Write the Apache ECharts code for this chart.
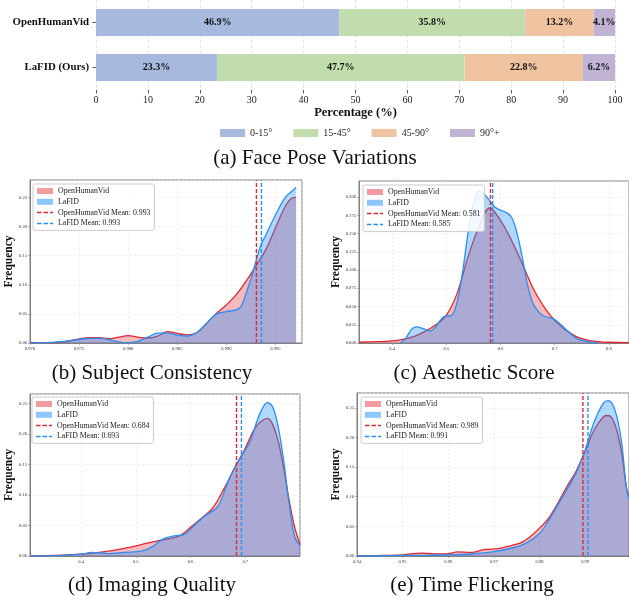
<!DOCTYPE html>
<html><head><meta charset="utf-8">
<script src="https://cdn.jsdelivr.net/npm/echarts@6/dist/echarts.min.js"></script>
<style>html,body{margin:0;padding:0;background:#fff}#c{width:629px;height:602px}</style>
</head><body><div id="c"></div>
<script>
// ---------- (a) Face pose data ----------
const poseCategories = ['OpenHumanVid', 'LaFID (Ours)'];
const poseBins = ['0-15°', '15-45°', '45-90°', '90°+'];
const poseOHV = [46.9, 35.8, 13.2, 4.1];
const poseLaFID = [23.3, 47.7, 22.8, 6.2];

// ---------- (b) Subject Consistency ----------
const subjOhvX = [0.970,0.972,0.9735,0.975,0.976,0.977,0.978,0.979,0.980,0.981,0.982,0.983,0.984,0.985,0.986,0.987,0.988,0.989,0.990,0.991,0.992,0.993,0.994,0.995,0.996,0.9967,0.9971];
const subjOhvY = [0.001,0.0005,0.002,0.007,0.009,0.009,0.0075,0.010,0.0126,0.010,0.0086,0.012,0.0195,0.0167,0.0138,0.018,0.034,0.051,0.0655,0.083,0.106,0.132,0.160,0.198,0.235,0.249,0.250];
const subjLafX = [0.970,0.972,0.974,0.975,0.976,0.977,0.978,0.979,0.980,0.981,0.982,0.983,0.984,0.985,0.986,0.987,0.988,0.989,0.990,0.991,0.9915,0.992,0.9925,0.993,0.9935,0.994,0.995,0.996,0.9967,0.9971];
const subjLafY = [0.0,0.001,0.004,0.006,0.008,0.008,0.006,0.002,0.0005,0.003,0.010,0.017,0.017,0.0135,0.012,0.018,0.034,0.050,0.054,0.057,0.063,0.085,0.110,0.140,0.168,0.185,0.220,0.250,0.261,0.267];

// ---------- (c) Aesthetic Score ----------
const aesOhvX = [0.339,0.40,0.42,0.44,0.46,0.48,0.50,0.52,0.54,0.56,0.58,0.60,0.62,0.64,0.66,0.68,0.70,0.72,0.74,0.76,0.78,0.80,0.837];
const aesOhvY = [0.001,0.003,0.005,0.0087,0.0155,0.0246,0.038,0.068,0.118,0.159,0.185,0.168,0.141,0.109,0.075,0.050,0.031,0.018,0.0087,0.004,0.002,0.001,0.0005];
const aesLafX = [0.415,0.425,0.435,0.445,0.46,0.47,0.48,0.495,0.51,0.52,0.53,0.54,0.55,0.56,0.57,0.58,0.59,0.60,0.61,0.62,0.63,0.64,0.65,0.66,0.67,0.68,0.70,0.72,0.74,0.76,0.78];
const aesLafY = [0,0.006,0.018,0.022,0.019,0.0164,0.022,0.036,0.038,0.056,0.097,0.150,0.189,0.208,0.204,0.195,0.186,0.182,0.179,0.173,0.152,0.118,0.079,0.054,0.043,0.037,0.032,0.019,0.0064,0.002,0];

// ---------- (d) Imaging Quality ----------
const iqOhvX = [0.307,0.35,0.40,0.45,0.50,0.52,0.54,0.56,0.58,0.60,0.62,0.64,0.66,0.68,0.70,0.72,0.74,0.76,0.78,0.79,0.80];
const iqOhvY = [0.0005,0.001,0.003,0.008,0.0165,0.021,0.025,0.028,0.033,0.047,0.062,0.078,0.1085,0.144,0.177,0.213,0.226,0.189,0.092,0.048,0.019];
const iqLafX = [0.307,0.35,0.40,0.42,0.45,0.48,0.51,0.53,0.55,0.57,0.59,0.61,0.63,0.65,0.67,0.69,0.70,0.71,0.72,0.73,0.74,0.75,0.76,0.77,0.78,0.79,0.80];
const iqLafY = [0,0.0005,0.003,0.006,0.004,0.006,0.008,0.015,0.028,0.033,0.036,0.053,0.068,0.081,0.125,0.160,0.174,0.190,0.218,0.240,0.252,0.245,0.213,0.158,0.087,0.032,0.017];

// ---------- (e) Time Flickering ----------
const tfOhvX = [0.940,0.945,0.950,0.954,0.957,0.960,0.962,0.965,0.968,0.971,0.974,0.976,0.978,0.980,0.982,0.984,0.986,0.988,0.990,0.992,0.994,0.995,0.996,0.997,0.998,0.999,0.9996];
const tfOhvY = [0.0005,0.001,0.002,0.005,0.0034,0.004,0.0068,0.006,0.011,0.0124,0.018,0.0226,0.033,0.047,0.064,0.089,0.117,0.143,0.177,0.213,0.235,0.237,0.231,0.210,0.174,0.117,0.100];
const tfLafX = [0.940,0.950,0.955,0.960,0.965,0.970,0.974,0.977,0.980,0.982,0.984,0.986,0.988,0.990,0.992,0.994,0.995,0.996,0.997,0.998,0.999,0.9996];
const tfLafY = [0,0.001,0.001,0.002,0.0034,0.0073,0.0135,0.0214,0.038,0.060,0.086,0.112,0.140,0.179,0.227,0.258,0.262,0.256,0.233,0.191,0.117,0.095];

// means (position, label)
const meanOhvPos = [0.99306, 0.5815, 0.684, 0.9895];
const meanLafPos = [0.99357, 0.5855, 0.693, 0.9906];
const meanOhvLabel = ['0.993', '0.581', '0.684', '0.989'];
const meanLafLabel = ['0.993', '0.585', '0.693', '0.991'];

const captions = ['(a) Face Pose Variations', '(b) Subject Consistency', '(c) Aesthetic Score', '(d) Imaging Quality', '(e) Time Flickering'];

// ---------- styles ----------
const SERIF = '"Liberation Serif","Times New Roman","DejaVu Serif",serif';
const poseColors = ['#a7b9de', '#c1dcad', '#f0c3a0', '#c1b3d4'];
const RED_LINE = '#dc2a33', RED_FILL = 'rgba(230,57,70,0.5)';
const BLUE_LINE = '#2a8ff0', BLUE_FILL = 'rgba(30,144,255,0.5)';
const DASH_ICON = 'path://M0,0h4.5v1.5h-4.5z M6.5,0h4.5v1.5h-4.5z M13,0h3v1.5h-3z';

const pair = (xs, ys) => xs.map((x, i) => [x, ys[i]]);

const panels = [
  {grid: {left: 30, top: 180, width: 272, height: 163}, xmin: 0.970, xmax: 0.9977, xint: 0.005, xdec: 3, ymax: 0.28, yint: 0.05, ydec: 2, nameGap: 11,
   ohv: pair(subjOhvX, subjOhvY), laf: pair(subjLafX, subjLafY), legend: {left: 33, top: 184}, cap: [152, 373]},
  {grid: {left: 359, top: 181, width: 271, height: 162}, xmin: 0.339, xmax: 0.837, xint: null, xdec: 1, ymax: 0.222, yint: 0.025, ydec: 3, nameGap: 14,
   ohv: pair(aesOhvX, aesOhvY), laf: pair(aesLafX, aesLafY), legend: {left: 363, top: 185}, cap: [474, 373]},
  {grid: {left: 30, top: 394, width: 270, height: 162}, xmin: 0.3067, xmax: 0.80, xint: null, xdec: 1, ymax: 0.266, yint: 0.05, ydec: 2, nameGap: 12,
   ohv: pair(iqOhvX, iqOhvY), laf: pair(iqLafX, iqLafY), legend: {left: 32, top: 397}, cap: [152, 585]},
  {grid: {left: 357, top: 393, width: 273, height: 163}, xmin: 0.94, xmax: 0.9996, xint: 0.01, xdec: 2, ymax: 0.275, yint: 0.05, ydec: 2, nameGap: 12,
   ohv: pair(tfOhvX, tfOhvY), laf: pair(tfLafX, tfLafY), legend: {left: 361, top: 397}, cap: [472, 585]}
];

const grids = [{left: 96, top: -1, width: 519, height: 91, containLabel: false}];
const xAxes = [{
  gridIndex: 0, type: 'value', min: 0, max: 100, interval: 10,
  axisLine: {show: false},
  axisTick: {show: true, length: 3.5, lineStyle: {color: '#333', width: 0.8}},
  axisLabel: {fontSize: 10, color: '#222', margin: 5, fontFamily: SERIF},
  splitLine: {show: true, lineStyle: {color: '#dcdcdc', type: [3, 2], width: 0.8}},
  name: 'Percentage (%)', nameLocation: 'middle', nameGap: 16,
  nameTextStyle: {fontSize: 12.5, fontWeight: 'bold', color: '#111', fontFamily: SERIF}
}];
const yAxes = [{
  gridIndex: 0, type: 'category', data: poseCategories, inverse: true,
  axisLine: {show: false},
  axisTick: {show: true, alignWithLabel: true, length: 3.5, lineStyle: {color: '#333', width: 0.8}},
  axisLabel: {fontSize: 10.8, fontWeight: 'bold', color: '#111', margin: 7, fontFamily: SERIF},
  splitLine: {show: false}
}];
const series = poseBins.map((b, i) => ({
  type: 'bar', name: b, stack: 'pose', xAxisIndex: 0, yAxisIndex: 0, barWidth: '60%',
  data: [poseOHV[i], poseLaFID[i]],
  itemStyle: {color: poseColors[i]},
  label: {show: true, position: 'inside', formatter: p => p.value.toFixed(1) + '%', fontSize: 10, fontWeight: 'bold', color: '#111', fontFamily: SERIF}
}));
const legends = [{
  data: poseBins.map(n => ({name: n, icon: 'rect'})), left: 215, top: 123, itemWidth: 25, itemHeight: 8, itemGap: 21,
  textStyle: {fontSize: 10, color: '#222', fontFamily: SERIF}, selectedMode: false
}];
const graphics = [];

panels.forEach((p, k) => {
  const gi = k + 1;
  grids.push(Object.assign({show: true, borderColor: '#808080', borderWidth: 1, backgroundColor: 'transparent'}, p.grid));
  const xa = {
    gridIndex: gi, type: 'value', min: p.xmin, max: p.xmax,
    axisLine: {show: true, lineStyle: {color: '#808080', width: 1}},
    axisTick: {show: true, length: 2, lineStyle: {color: '#808080', width: 0.6}},
    axisLabel: {fontSize: 4.6, color: '#333', margin: 3, fontFamily: SERIF, showMaxLabel: false,
      showMinLabel: p.xint !== null, formatter: v => v.toFixed(p.xdec)},
    splitLine: {show: true, lineStyle: {color: '#e4e4e4', type: [2, 2], width: 0.6}}
  };
  if (p.xint !== null) xa.interval = p.xint; else xa.splitNumber = 5;
  xAxes.push(xa);
  yAxes.push({
    gridIndex: gi, type: 'value', min: 0, max: p.ymax, interval: p.yint,
    axisLine: {show: true, lineStyle: {color: '#808080', width: 1}},
    axisTick: {show: true, length: 2, lineStyle: {color: '#808080', width: 0.6}},
    axisLabel: {fontSize: 4.6, color: '#333', margin: 3, fontFamily: SERIF, showMaxLabel: false, formatter: v => v.toFixed(p.ydec)},
    splitLine: {show: true, lineStyle: {color: '#e4e4e4', type: [2, 2], width: 0.6}},
    name: 'Frequency', nameLocation: 'middle', nameGap: p.nameGap, nameRotate: 90,
    nameTextStyle: {fontSize: 11.5, fontWeight: 'bold', color: '#111', fontFamily: SERIF}
  });
  const mo = 'OpenHumanVid Mean: ' + meanOhvLabel[k];
  const ml = 'LaFID Mean: ' + meanLafLabel[k];
  series.push(
    {type: 'line', name: 'OpenHumanVid', xAxisIndex: gi, yAxisIndex: gi, data: p.ohv, smooth: 0.35, symbol: 'none',
     lineStyle: {color: RED_LINE, width: 1.3}, itemStyle: {color: RED_LINE}, areaStyle: {color: RED_FILL}, z: 2},
    {type: 'line', name: 'LaFID', xAxisIndex: gi, yAxisIndex: gi, data: p.laf, smooth: 0.35, symbol: 'none',
     lineStyle: {color: BLUE_LINE, width: 1.3}, itemStyle: {color: BLUE_LINE}, areaStyle: {color: BLUE_FILL}, z: 3},
    {type: 'line', name: mo, xAxisIndex: gi, yAxisIndex: gi, data: [[meanOhvPos[k], 0], [meanOhvPos[k], p.ymax]], symbol: 'none',
     lineStyle: {color: RED_LINE, width: 1.4, type: [4, 2]}, itemStyle: {color: RED_LINE}, z: 4},
    {type: 'line', name: ml, xAxisIndex: gi, yAxisIndex: gi, data: [[meanLafPos[k], 0], [meanLafPos[k], p.ymax]], symbol: 'none',
     lineStyle: {color: BLUE_LINE, width: 1.4, type: [4, 2]}, itemStyle: {color: BLUE_LINE}, z: 4}
  );
  legends.push({
    orient: 'vertical', left: p.legend.left, top: p.legend.top, selectedMode: false,
    data: [
      {name: 'OpenHumanVid', icon: 'rect', itemStyle: {color: RED_FILL, borderWidth: 0}},
      {name: 'LaFID', icon: 'rect', itemStyle: {color: BLUE_FILL, borderWidth: 0}},
      {name: mo, icon: DASH_ICON, itemStyle: {color: RED_LINE, borderWidth: 0}},
      {name: ml, icon: DASH_ICON, itemStyle: {color: BLUE_LINE, borderWidth: 0}}
    ],
    itemWidth: 16, itemHeight: 6, itemGap: 2.8, symbolKeepAspect: true,
    textStyle: {fontSize: 7.8, color: '#222', fontFamily: SERIF},
    backgroundColor: 'rgba(255,255,255,0.85)', borderColor: '#cccccc', borderWidth: 1, borderRadius: 2, padding: [3, 4, 3, 4],
    z: 10
  });
  graphics.push({type: 'text', x: p.cap[0], y: p.cap[1], style: {text: captions[k + 1], font: '21px ' + SERIF, fill: '#111', textAlign: 'center', textVerticalAlign: 'middle'}});
});
graphics.push({type: 'text', x: 315, y: 158, style: {text: captions[0], font: '21px ' + SERIF, fill: '#111', textAlign: 'center', textVerticalAlign: 'middle'}});

const chart = echarts.init(document.getElementById('c'), null, {renderer: 'canvas'});
chart.setOption({
  animation: false,
  backgroundColor: '#fff',
  grid: grids, xAxis: xAxes, yAxis: yAxes, series: series, legend: legends, graphic: graphics
});
</script></body></html>
